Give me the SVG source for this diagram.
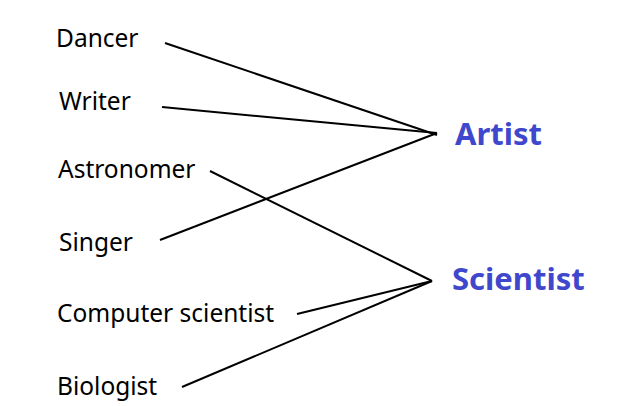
<svg xmlns="http://www.w3.org/2000/svg" width="631" height="406" viewBox="0 0 631 406">
<style>
.t{font-family:"Noto Sans","Open Sans",sans-serif;font-size:24.5px;fill:#000}
.c{font-family:"Noto Sans","Open Sans",sans-serif;font-size:31px;font-weight:bold;fill:#3f48cc}
line{stroke:#000;stroke-width:2}
</style>
<rect width="631" height="406" fill="#fff"/>
<g id="connectors">
<line x1="165" y1="43" x2="437" y2="135"/>
<line x1="162" y1="107" x2="437" y2="133"/>
<line x1="160" y1="240" x2="437" y2="133"/>
<line x1="210" y1="171" x2="432" y2="281"/>
<line x1="297" y1="314" x2="432" y2="281"/>
<line x1="182" y1="387" x2="432" y2="281"/>
</g>
<g id="dancer"><text class="t" x="56" y="47">Dancer</text></g>
<g id="writer"><text class="t" x="59" y="110">Writer</text></g>
<g id="astronomer"><text class="t" x="58" y="178">Astronomer</text></g>
<g id="singer"><text class="t" x="59" y="251">Singer</text></g>
<g id="computer-scientist"><text class="t" x="57" y="322">Computer scientist</text></g>
<g id="biologist"><text class="t" x="57" y="395">Biologist</text></g>
<g id="artist"><text class="c" x="455" y="145">Artist</text></g>
<g id="scientist"><text class="c" x="452" y="290">Scientist</text></g>
</svg>
